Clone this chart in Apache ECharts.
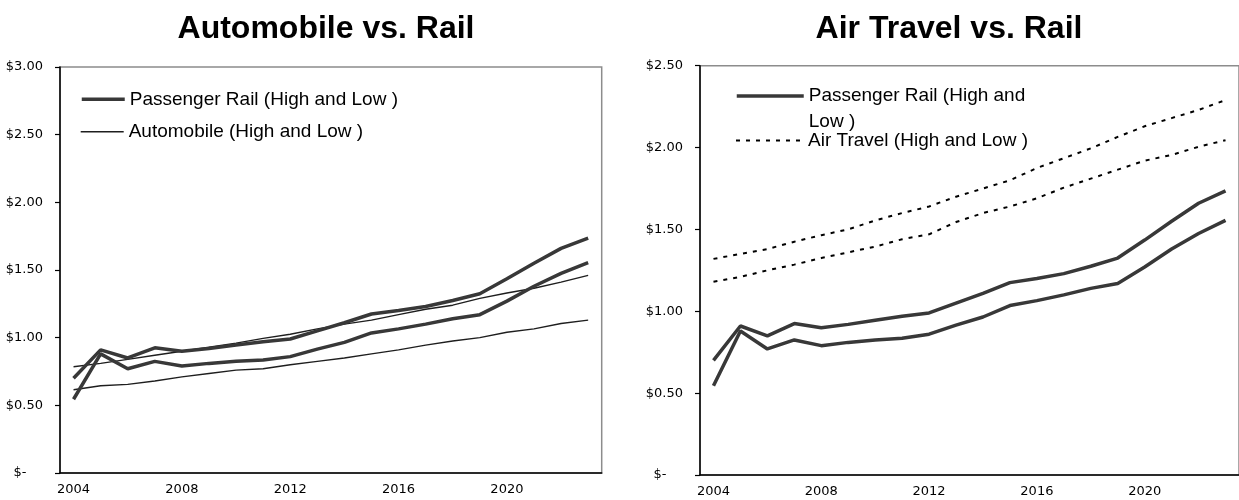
<!DOCTYPE html>
<html>
<head>
<meta charset="utf-8">
<title>Automobile vs. Rail / Air Travel vs. Rail</title>
<script src="https://cdn.jsdelivr.net/npm/echarts@6/dist/echarts.min.js"></script>
<style>
  html, body { margin: 0; padding: 0; background: #fff; }
  #chart { width: 1239px; height: 500px; }
</style>
</head>
<body>
<div id="chart"></div>
<script>
// Fare per passenger-mile, 2004-2023 (high and low scenarios)
const years = ['2004','2005','2006','2007','2008','2009','2010','2011','2012','2013',
               '2014','2015','2016','2017','2018','2019','2020','2021','2022','2023'];

const railHigh = [0.70, 0.91, 0.85, 0.925, 0.90, 0.92, 0.945, 0.97, 0.99, 1.05,
                  1.11, 1.175, 1.20, 1.23, 1.275, 1.325, 1.435, 1.55, 1.66, 1.735];
const railLow  = [0.545, 0.88, 0.77, 0.825, 0.79, 0.81, 0.825, 0.835, 0.86, 0.915,
                  0.965, 1.035, 1.065, 1.10, 1.14, 1.17, 1.27, 1.38, 1.475, 1.555];

const autoHigh = [0.785, 0.81, 0.84, 0.87, 0.90, 0.93, 0.96, 0.995, 1.025, 1.065,
                  1.10, 1.13, 1.17, 1.21, 1.24, 1.29, 1.33, 1.365, 1.41, 1.46];
const autoLow  = [0.615, 0.645, 0.655, 0.68, 0.71, 0.735, 0.76, 0.77, 0.80, 0.825,
                  0.85, 0.88, 0.91, 0.945, 0.975, 1.0, 1.04, 1.065, 1.105, 1.13];

const airHigh = [1.32, 1.35, 1.38, 1.425, 1.465, 1.50, 1.555, 1.60, 1.64, 1.70,
                 1.75, 1.80, 1.875, 1.935, 1.995, 2.065, 2.13, 2.18, 2.23, 2.29];
const airLow  = [1.18, 1.21, 1.25, 1.285, 1.325, 1.36, 1.395, 1.44, 1.47, 1.545,
                 1.60, 1.64, 1.69, 1.755, 1.81, 1.865, 1.92, 1.955, 2.005, 2.045];

const titles = ['Automobile vs. Rail', 'Air Travel vs. Rail'];
const RAIL = 'Passenger Rail (High and Low )';
const AUTO = 'Automobile (High and Low )';
const AIR  = 'Air Travel (High and Low )';

const LABEL_FONT = 'DejaVu Sans';
const TEXT_FONT = '"Liberation Sans", Arial, sans-serif';

function money(v) {
  return v === 0 ? '$-    ' : '$' + v.toFixed(2);
}

function xAxis(gridIndex) {
  return {
    type: 'category', gridIndex, data: years, boundaryGap: true,
    axisLine: { lineStyle: { color: '#000', width: 1.5 } },
    axisTick: { interval: 0, length: 5, lineStyle: { color: '#000', width: 1.2 } },
    axisLabel: { interval: 3, margin: 10, color: '#000', fontFamily: LABEL_FONT, fontSize: 13 },
    splitLine: { show: false }
  };
}

function yAxis(gridIndex, max) {
  return {
    type: 'value', gridIndex, min: 0, max, interval: 0.5,
    axisLine: { show: true, lineStyle: { color: '#000', width: 1.5 } },
    axisTick: { show: true, length: 5, lineStyle: { color: '#000', width: 1.2 } },
    axisLabel: { margin: 17, color: '#000', fontFamily: LABEL_FONT, fontSize: 13, formatter: money },
    splitLine: { show: false }
  };
}

const railStyle = { color: '#383838', width: 3.5 };
const autoStyle = { color: '#1e1e1e', width: 1.4 };
const airStyle  = { color: '#000', width: 2, type: [4, 6] };

function line(name, data, idx, style, z) {
  return {
    name, type: 'line', data, xAxisIndex: idx, yAxisIndex: idx,
    symbol: 'none', lineStyle: style, itemStyle: { color: style.color },
    emphasis: { disabled: true }, z
  };
}

// One legend entry: a plain line sample (no marker) followed by its label
function legendBox(name, left, top, width, lineWidth, lineHeight) {
  return {
    data: [name], left, top, orient: 'vertical', padding: 0,
    itemWidth: width, itemHeight: 20, selectedMode: false,
    itemStyle: { color: 'transparent', borderColor: 'transparent', borderWidth: 0 },
    lineStyle: { width: lineWidth },
    textStyle: { color: '#000', fontFamily: TEXT_FONT, fontSize: 19, lineHeight: lineHeight || 20 }
  };
}

const chart = echarts.init(document.getElementById('chart'), null, { renderer: 'canvas' });

chart.setOption({
  animation: false,
  backgroundColor: '#fff',
  title: [
    { text: titles[0], left: 321, top: 8, textAlign: 'center',
      textStyle: { fontFamily: TEXT_FONT, fontSize: 32, fontWeight: 'bold', color: '#000' } },
    { text: titles[1], left: 944, top: 8, textAlign: 'center',
      textStyle: { fontFamily: TEXT_FONT, fontSize: 32, fontWeight: 'bold', color: '#000' } }
  ],
  grid: [
    { left: 60, top: 67, width: 541.7, height: 406, show: true,
      borderColor: '#8c8c8c', borderWidth: 1.5, backgroundColor: 'transparent' },
    { left: 700, top: 65.7, width: 550, height: 409.3, show: true,
      borderColor: '#8c8c8c', borderWidth: 1.5, backgroundColor: 'transparent' }
  ],
  xAxis: [xAxis(0), xAxis(1)],
  yAxis: [yAxis(0, 3), yAxis(1, 2.5)],
  legend: [
    legendBox(RAIL, 80, 89.3, 43, 3.5),
    legendBox(AUTO, 80, 121.7, 43, 1.4),
    // wrapped label; the leading blank line keeps the sample level with the first text line
    Object.assign(legendBox(RAIL, 735, 57.45, 67, 3.5, 25.7), {
      formatter: () => ' \nPassenger Rail (High and\nLow )'
    }),
    legendBox(AIR, 735, 130.5, 67, 2)
  ],
  series: [
    line(AUTO, autoHigh, 0, autoStyle, 2),
    line(AUTO, autoLow, 0, autoStyle, 2),
    line(RAIL, railHigh, 0, railStyle, 3),
    line(RAIL, railLow, 0, railStyle, 3),
    line(AIR, airHigh, 1, airStyle, 2),
    line(AIR, airLow, 1, airStyle, 2),
    line(RAIL, railHigh, 1, railStyle, 3),
    line(RAIL, railLow, 1, railStyle, 3)
  ]
});
</script>
</body>
</html>
